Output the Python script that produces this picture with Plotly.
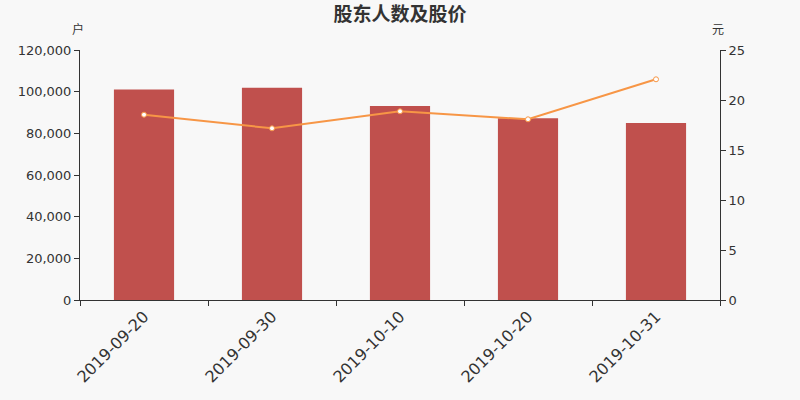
import plotly.graph_objects as go

# 股东人数 (户) 和 股价 (元)
dates = ["2019-09-20", "2019-09-30", "2019-10-10", "2019-10-20", "2019-10-31"]
holders = [101100, 101900, 93100, 87200, 85000]
price = [18.53, 17.17, 18.87, 18.07, 22.07]

bar_color = "#c0504d"
line_color = "#f79646"
axis_color = "#333333"
bg = "#f8f8f8"

fig = go.Figure()

fig.add_trace(go.Bar(
    x=dates,
    y=holders,
    marker={"color": bar_color, "line": {"width": 0}},
    width=0.47,
    name="股东人数",
))

fig.add_trace(go.Scatter(
    x=dates,
    y=price,
    yaxis="y2",
    mode="lines+markers",
    line={"color": line_color, "width": 2},
    marker={"size": 5, "color": "white", "line": {"color": line_color, "width": 1}},
    name="股价",
))

fig.update_layout(
    width=800,
    height=400,
    paper_bgcolor=bg,
    plot_bgcolor=bg,
    showlegend=False,
    margin={"l": 80, "r": 80, "t": 50, "b": 100},
    font={"family": "DejaVu Sans", "color": axis_color, "size": 13},
    title={
        "text": "<b>股东人数及股价</b>",
        "x": 0.5, "xanchor": "center",
        "y": 0.965, "yanchor": "middle",
        "font": {"family": "Noto Sans CJK SC", "size": 19, "color": axis_color},
    },
    xaxis={
        "type": "category",
        "tickson": "boundaries",
        "ticks": "outside",
        "ticklen": 5,
        "tickcolor": axis_color,
        "showline": True,
        "linecolor": axis_color,
        "linewidth": 1,
        "showgrid": False,
        "tickangle": -45,
        "automargin": False,
        "tickfont": {"size": 16, "color": axis_color},
    },
    yaxis={
        "range": [0, 120000],
        "tickvals": [0, 20000, 40000, 60000, 80000, 100000, 120000],
        "tickformat": ",d",
        "ticks": "outside",
        "ticklen": 5,
        "tickcolor": axis_color,
        "showline": True,
        "linecolor": axis_color,
        "showgrid": False,
        "zeroline": False,
        "automargin": False,
    },
    yaxis2={
        "overlaying": "y",
        "side": "right",
        "range": [0, 25],
        "tickvals": [0, 5, 10, 15, 20, 25],
        "ticks": "outside",
        "ticklen": 5,
        "tickcolor": axis_color,
        "showline": True,
        "linecolor": axis_color,
        "showgrid": False,
        "zeroline": False,
        "automargin": False,
    },
    annotations=[
        {"text": "户", "xref": "paper", "yref": "paper", "x": 0, "y": 1.0,
         "xshift": -2, "yshift": 22, "xanchor": "center", "yanchor": "middle",
         "showarrow": False,
         "font": {"family": "Noto Sans CJK SC", "size": 12, "color": axis_color}},
        {"text": "元", "xref": "paper", "yref": "paper", "x": 1, "y": 1.0,
         "xshift": -2, "yshift": 22, "xanchor": "center", "yanchor": "middle",
         "showarrow": False,
         "font": {"family": "Noto Sans CJK SC", "size": 12, "color": axis_color}},
    ],
)

# 去掉页面默认的 8px 边距
fig.write_html("out.html", config={"displayModeBar": False},
               post_script="document.body.style.margin='0';document.body.style.background='%s';" % bg)
